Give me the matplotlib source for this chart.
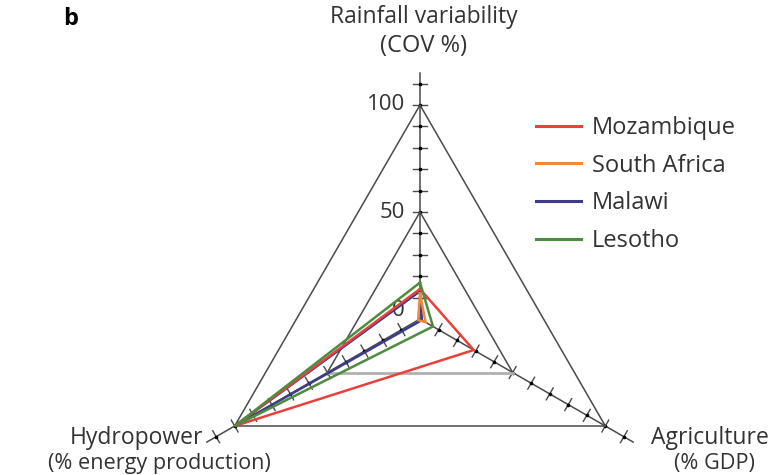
import numpy as np
import matplotlib
matplotlib.use("Agg")
import matplotlib.pyplot as plt

plt.rcParams["font.family"] = ["Open Sans", "DejaVu Sans"]

# data
countries = ["Mozambique", "South Africa", "Malawi", "Lesotho"]
colors = ["#e8413c", "#ef8a3c", "#3c3c8a", "#4d8c3f"]
rainfall_cov = [14, 12, 13, 17]        # top axis
agriculture_gdp = [29, 3, 1, 7]       # bottom-right axis
hydropower_pct = [100, 1, 100, 100]   # bottom-left axis

grid_levels = [50, 100]
tick_values = np.arange(10, 111, 10)
value_labels = ["0", "50", "100"]
value_label_pos = [4, 50, 100]

W, H = 776, 475
cx, cy = 420, 319      # centre in pixels
s = 2.14               # pixels per unit

angles = np.deg2rad([90, -30, 210])  # rainfall, agriculture, hydropower


def point(v, k):
    return v * np.cos(angles[k]), v * np.sin(angles[k])


fig = plt.figure(figsize=(W / 100, H / 100), dpi=100)
ax = fig.add_axes([0, 0, 1, 1])
ax.set_xlim(-cx / s, (W - cx) / s)
ax.set_ylim(-(H - cy) / s, cy / s)
ax.axis("off")

axis_color = "#4a4a4a"

# axes with ticks
for k in range(3):
    x1, y1 = point(115, k)
    ax.plot([0, x1], [0, y1], color=axis_color, lw=1.1, zorder=1)
    px, py = -np.sin(angles[k]), np.cos(angles[k])
    for t in tick_values:
        x, y = point(t, k)
        ax.plot([x - 3.2 * px, x + 3.2 * px], [y - 3.2 * py, y + 3.2 * py],
                color=axis_color, lw=1.0, zorder=1)
        ax.plot(x, y, "o", color="black", ms=1.6, zorder=1)

# grid triangles
for lev in grid_levels:
    pts = [point(lev, k) for k in range(3)]
    top, right, left = pts
    ax.plot([left[0], top[0], right[0]], [left[1], top[1], right[1]],
            color=axis_color, lw=1.1, zorder=1)
    if lev == 100:
        ax.plot([left[0], right[0]], [left[1], right[1]],
                color=axis_color, lw=1.1, zorder=1)
    else:
        ax.plot([left[0], right[0]], [left[1], right[1]],
                color="#b0b0b0", lw=2.0, zorder=1)

# value labels on the top axis
for lab, v in zip(value_labels, value_label_pos):
    ax.text(-7, v, lab, ha="right", va="center", fontsize=16,
            color="#333333", zorder=0)

# country triangles
order = [2, 1, 0, 3]
for i in order:
    vals = [rainfall_cov[i], agriculture_gdp[i], hydropower_pct[i]]
    pts = [point(v, k) for k, v in enumerate(vals)]
    xs = [p[0] for p in pts] + [pts[0][0]]
    ys = [p[1] for p in pts] + [pts[0][1]]
    ax.plot(xs, ys, color=colors[i], lw=1.8, zorder=3 + order.index(i),
            solid_joinstyle="miter")

# legend
handles = [plt.Line2D([], [], color=c, lw=2.2) for c in colors]
fig.legend(handles, countries, loc="upper left",
           bbox_to_anchor=(536 / W, 1 - 116 / H), frameon=False,
           fontsize=17, handlelength=1.9, handletextpad=0.47,
           labelspacing=0.58, borderpad=0, borderaxespad=0,
           labelcolor="#333333")


# labels
def ftext(x, y, txt, **kw):
    opts = dict(fontsize=16.5, color="#333333", va="center")
    opts.update(kw)
    fig.text(x / W, 1 - y / H, txt, **opts)


ftext(71, 19, "b", fontweight="bold", fontsize=17, color="black", ha="center")
ftext(424, 17, "Rainfall variability", ha="center")
ftext(424, 46, "(COV %)", ha="center", fontsize=17)
ftext(136, 438, "Hydropower", ha="center")
ftext(159, 463, "(% energy production)", ha="center", fontsize=15.6)
ftext(710, 438, "Agriculture", ha="center")
ftext(714, 463, "(% GDP)", ha="center", fontsize=15.6)

fig.savefig("out.png", dpi=100)
